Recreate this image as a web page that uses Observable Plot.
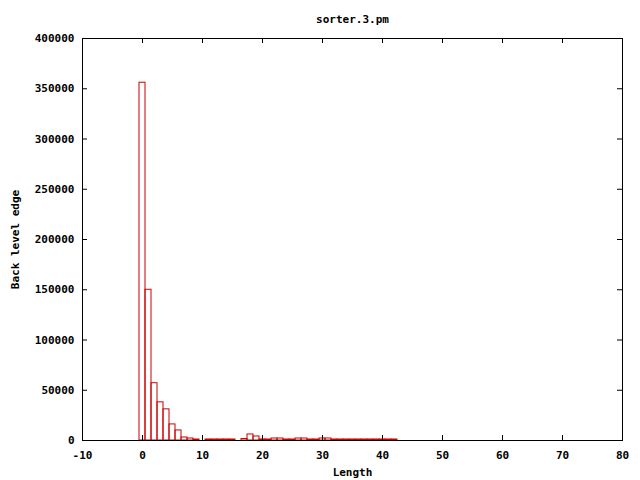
<!DOCTYPE html>
<html><head><meta charset="utf-8">
<script src="https://cdn.jsdelivr.net/npm/d3@7"></script>
<script src="https://cdn.jsdelivr.net/npm/@observablehq/plot@0.6"></script>
<style>body{margin:0;background:#fff}</style>
</head><body><div id="chart"></div>
<script>
const title = "sorter.3.pm";
const xLabel = "Length";
const yLabel = "Back level edge";
const lengths = [0,1,2,3,4,5,6,7,8,9,10,11,12,13,14,15,16,17,18,19,20,21,22,23,24,25,26,27,28,29,30,31,32,33,34,35,36,37,38,39,40,41,42];
const counts  = [356000,150000,57000,38000,31000,16000,10000,3000,2000,1000,0,1000,1000,1000,1000,1000,0,1500,6000,4000,1000,1000,2000,2000,1000,1000,2000,2000,1000,1000,2000,2000,1000,1000,1000,1000,1000,1000,1000,1000,1000,1000,1000];
const xTicks = [-10,0,10,20,30,40,50,60,70,80];
const yTicks = [0,50000,100000,150000,200000,250000,300000,350000,400000];
const xDomain = [-10,80];
const yDomain = [0,400000];

const data = lengths.map((x,i)=>({x, y: counts[i]}));
const tickLenY = yDomain[1] * 5 / 402;
const tickLenX = (xDomain[1]-xDomain[0]) * 5 / 540;
const font = "'DejaVu Sans Mono', monospace";

const plot = Plot.plot({
  width: 640, height: 480,
  marginLeft: 82, marginRight: 18, marginTop: 38, marginBottom: 40,
  style: {fontFamily: font, fontSize: "11px", fontWeight: "bold", color: "black", background: "white", overflow: "visible"},
  x: {domain: xDomain, label: null},
  y: {domain: yDomain, label: null},
  marks: [
    Plot.rect(data, {x1: d=>d.x-0.5, x2: d=>d.x+0.5, y1: 0, y2: "y", fill: "none", stroke: "#cc0000", strokeWidth: 1}),
    Plot.ruleX(xTicks, {x: d=>d, y1: yDomain[0], y2: yDomain[0]+tickLenY, stroke: "black"}),
    Plot.ruleX(xTicks, {x: d=>d, y1: yDomain[1], y2: yDomain[1]-tickLenY, stroke: "black"}),
    Plot.ruleY(yTicks, {y: d=>d, x1: xDomain[0], x2: xDomain[0]+tickLenX, stroke: "black"}),
    Plot.ruleY(yTicks, {y: d=>d, x1: xDomain[1], x2: xDomain[1]-tickLenX, stroke: "black"}),
    Plot.frame({stroke: "black"}),
    Plot.axisX({ticks: xTicks, tickSize: 0, tickPadding: 11, tickFormat: d=>String(d), label: null}),
    Plot.axisY({ticks: yTicks, tickSize: 0, tickPadding: 8, tickFormat: d=>String(d), label: null}),
    Plot.text([title], {frameAnchor: "top", dy: -19, lineAnchor: "middle", textAnchor: "middle", text: d=>d, fontSize: 11, fontWeight: "bold"}),
    Plot.text([xLabel], {frameAnchor: "bottom", dy: 32, lineAnchor: "middle", textAnchor: "middle", text: d=>d, fontSize: 11, fontWeight: "bold"}),
    Plot.text([yLabel], {frameAnchor: "left", dx: -67, rotate: -90, lineAnchor: "middle", textAnchor: "middle", text: d=>d, fontSize: 11, fontWeight: "bold"})
  ]
});
document.getElementById("chart").appendChild(plot);
</script>
</body></html>
